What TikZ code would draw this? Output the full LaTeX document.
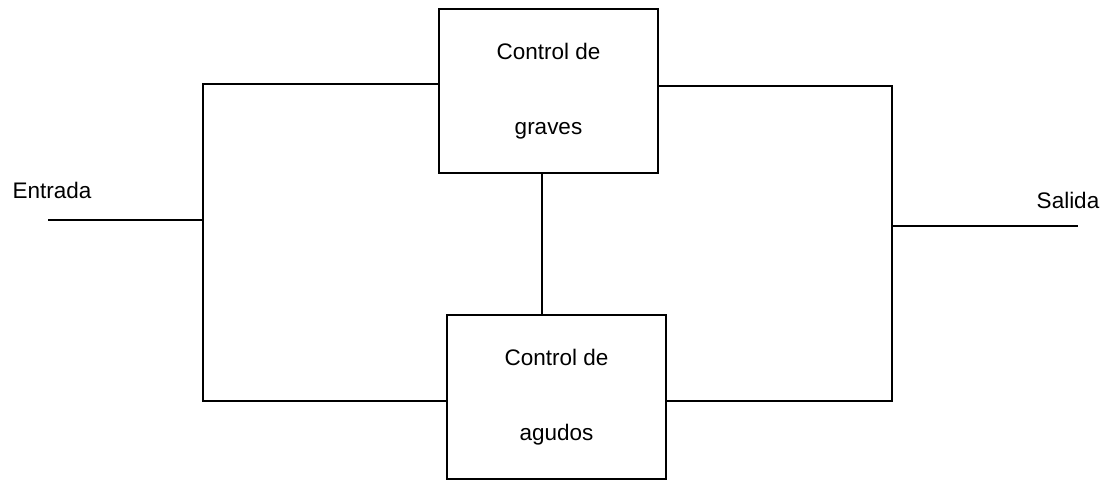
\documentclass[tikz,border=0pt]{standalone}
\usepackage{fontspec}
\setmainfont{Liberation Sans}
\usepackage{tikz}

\begin{document}
\begin{tikzpicture}[line width=1.2pt,
  ctrlbox/.style={draw, minimum width=5.475cm, minimum height=4.1cm, align=center,
    font=\fontsize{16}{19}\selectfont},
  lbl/.style={font=\fontsize{16}{19}\selectfont}]
\useasboundingbox (0,0) rectangle (27.65,12);
% Tone control blocks
\node[ctrlbox] (graves) at (13.7125,9.725) {Control de\\[1.2cm]graves};
\node[ctrlbox] (agudos) at (13.9125,2.075) {Control de\\[1.2cm]agudos};
% Input and output terminals
\coordinate (in) at (1.2,6.5);
\coordinate (inj) at (5.075,6.5);
\coordinate (lt) at (5.075,9.9);
\coordinate (lb) at (5.075,1.975);
\coordinate (rt) at (22.3,9.85);
\coordinate (rb) at (22.3,1.975);
\coordinate (outj) at (22.3,6.35);
\coordinate (out) at (26.95,6.35);
\node[lbl] (entrada) at (1.3,7.25) {Entrada};
\node[lbl] (salida) at (26.7,7.0) {Salida};
% Wiring
\draw (in) -- (inj);
\draw (graves.west |- lt) -- (lt) -- (lb) -- (agudos.west |- lb);
\draw (graves.east |- rt) -- (rt) -- (rb) -- (agudos.east |- rb);
\draw (outj) -- (out);
\draw (13.55,0 |- graves.south) -- (13.55,0 |- agudos.north);
\end{tikzpicture}
\end{document}
